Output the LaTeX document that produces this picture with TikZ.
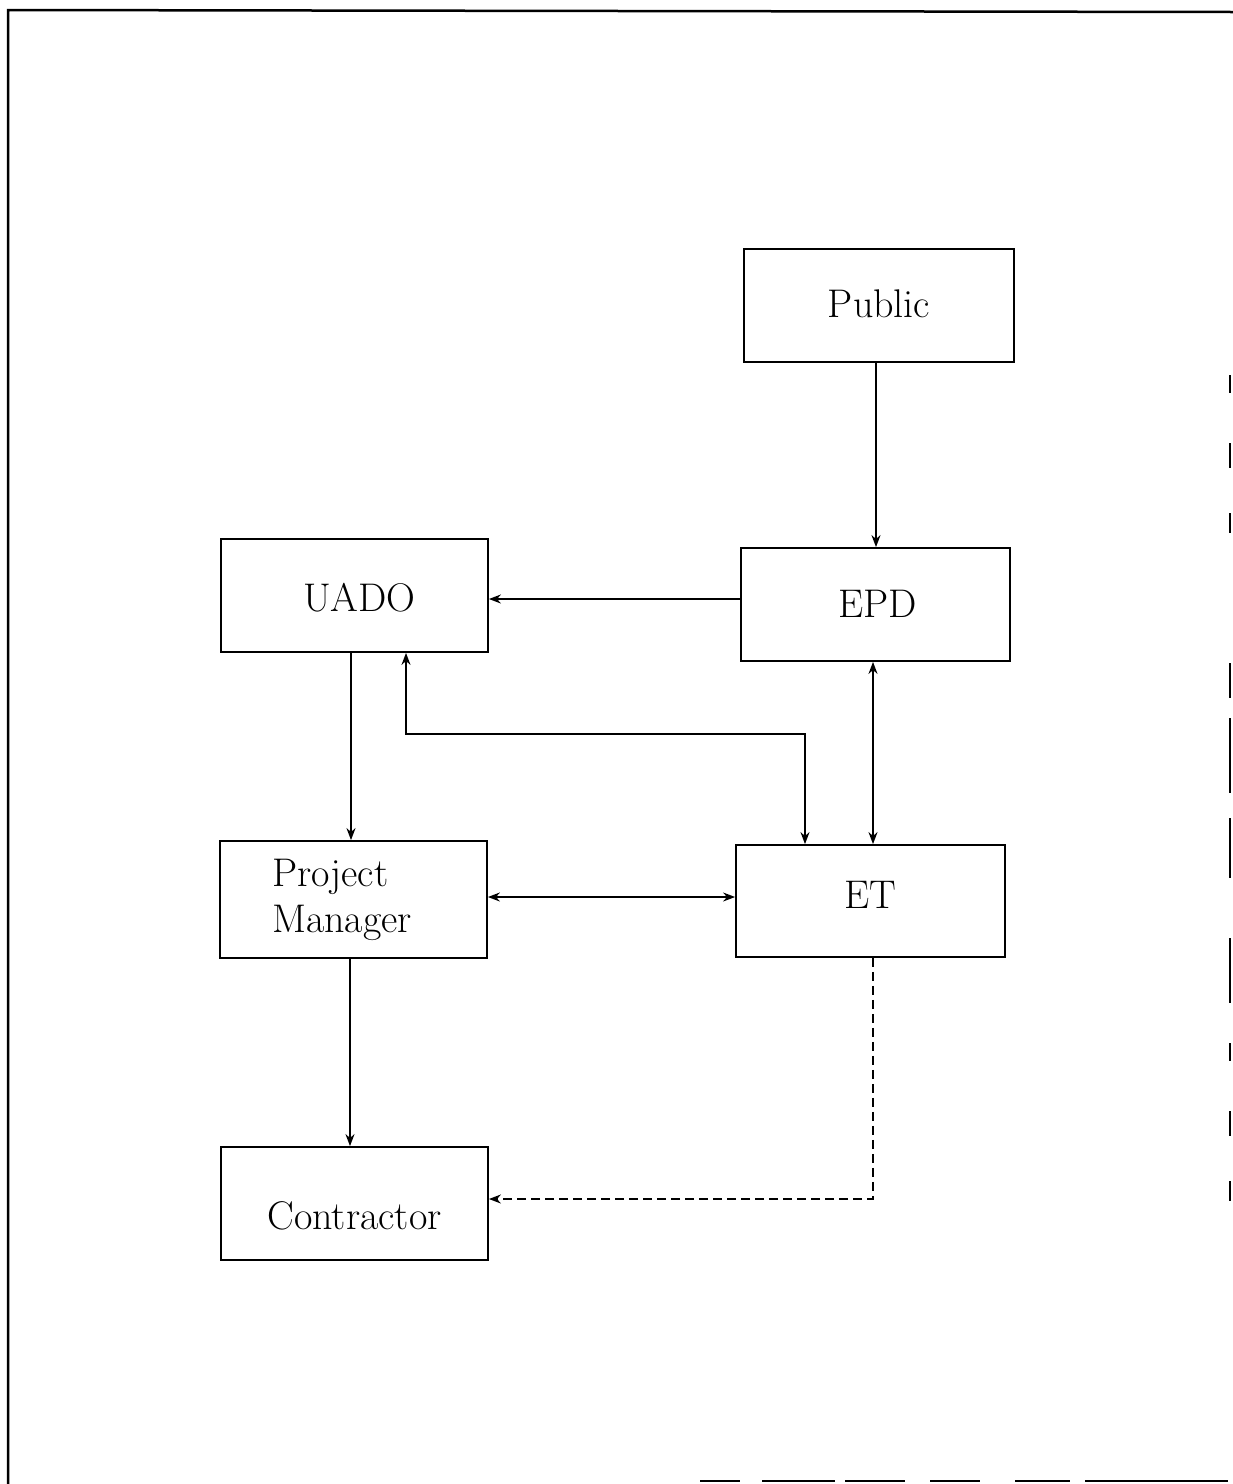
\documentclass[tikz,border=0pt]{standalone}
\usetikzlibrary{arrows.meta}
% lower a label by #1 without changing the size of its box
\newcommand{\droptext}[2]{\raisebox{-#1}[0pt][0pt]{#2}}
\begin{document}
\begin{tikzpicture}[x=1pt,y=-1pt,
  box/.style={draw,line width=1.8pt,rectangle,inner sep=0pt,
    font=\fontsize{40}{46}\selectfont,align=left},
  link/.style={line width=1.6pt,-{Stealth[length=12pt,width=9pt]}},
  both/.style={line width=1.6pt,{Stealth[length=12pt,width=9pt]}-{Stealth[length=12pt,width=9pt]}},
  frame/.style={line width=2.5pt}]
\useasboundingbox (0,0) rectangle (1233,1484);

% page frame
\draw[frame] (8,1484) -- (8,10) -- (1233,12);
\draw[line width=1.5pt,dash pattern=on 18pt off 50pt on 25pt off 45pt on 20pt off 130pt on 35pt off 20pt on 75pt off 25pt on 60pt off 60pt on 65pt off 40pt]
  (1230,375) -- (1230,1300);
\draw[frame,dash pattern=on 40pt off 22pt on 73pt off 10pt on 60pt off 25pt on 50pt off 35pt on 55pt off 15pt on 143pt]
  (700,1481) -- (1233,1481);

% boxes
\node[box,minimum width=270pt,minimum height=113pt] (public) at (879,305.5) {\droptext{11.5pt}{Public}};
\node[box,minimum width=269pt,minimum height=113pt] (epd) at (875.5,604.5) {\hspace*{5pt}\droptext{12.5pt}{EPD}};
\node[box,minimum width=267pt,minimum height=113pt] (uado) at (354.5,595.5) {\hspace*{10pt}\droptext{15.5pt}{UADO}};
\node[box,minimum width=267pt,minimum height=117pt,text width=163pt] (pm) at (353.5,899.5) {Project\\Manager};
\node[box,minimum width=269pt,minimum height=112pt] (et) at (870.5,901) {\droptext{7pt}{ET}};
\node[box,minimum width=267pt,minimum height=113pt] (con) at (354.5,1203.5) {\droptext{26pt}{Contractor}};

% connectors
\draw[link] (public.south -| 876,0) -- (epd.north -| 876,0);
\draw[link] (epd.west |- 0,599) -- (uado.east |- 0,599);
\draw[link] (uado.south -| 351,0) -- (pm.north -| 351,0);
\draw[both] (uado.south -| 406,0) -- (406,734) -- (805,734) -- (et.north -| 805,0);
\draw[both] (epd.south -| 873,0) -- (et.north -| 873,0);
\draw[both] (pm.east |- 0,897) -- (et.west |- 0,897);
\draw[link] (pm.south -| 350,0) -- (con.north -| 350,0);
\draw[link,dash pattern=on 9pt off 5pt] (et.south -| 873,0) -- (873,1199) -- (con.east |- 0,1199);
\end{tikzpicture}
\end{document}
